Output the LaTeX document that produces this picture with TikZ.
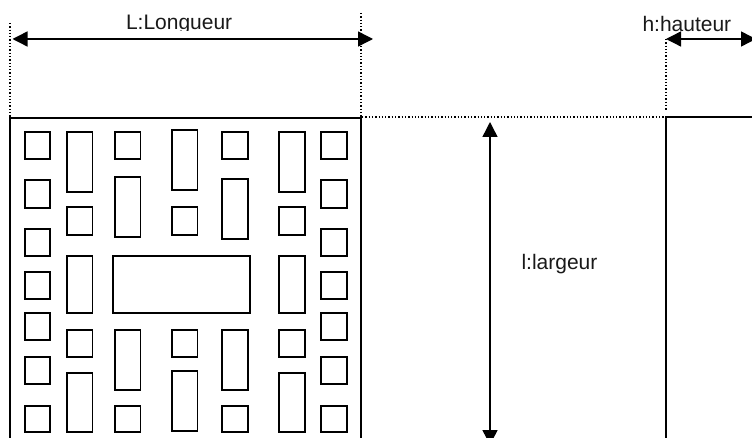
\documentclass[tikz,border=0pt]{standalone}
\usepackage{fontspec}
\setmainfont{Liberation Sans}
\usetikzlibrary{arrows.meta}
\tikzset{
  x=1pt,y=-1pt,
  part/.style={draw=black,line width=1.3pt,fill=white},
  edgeline/.style={draw=black,line width=1.3pt},
  guide/.style={draw=black,line width=1.3pt,dash pattern=on 1.3pt off 2pt},
  dimarrow/.style={draw=black,line width=1.4pt,{Triangle[length=15pt,width=15pt]}-{Triangle[length=15pt,width=15pt]}},
  dimlabel/.style={anchor=base west,inner sep=0pt,outer sep=0pt,font=\fontsize{21}{25}\selectfont,text=black!90}
}
\begin{document}
\begin{tikzpicture}
\useasboundingbox (0,0) rectangle (752,438);
\clip (0,0) rectangle (752,438);
% named anchor points
\coordinate (Ltl) at (10,118);
\coordinate (Ltr) at (361,118);
\coordinate (Lbl) at (10,440);
\coordinate (Lbr) at (361,440);
\coordinate (Rtl) at (666,117);
\coordinate (Rtr) at (754,117);
\coordinate (Rbl) at (666,440);
\coordinate (aLa) at (12.5,39);
\coordinate (aLb) at (373,39);
\coordinate (aHa) at (666,39);
\coordinate (aHb) at (756,39);
\coordinate (aWa) at (490,122);
\coordinate (aWb) at (490,445);
\coordinate (gLa) at (10,23);
\coordinate (gRa) at (361,13);
\coordinate (gMa) at (362,117);
\coordinate (gHa) at (666,39);
\coordinate (gHb) at (666,111);
% guides
\draw[guide] (gLa) -- (Ltl);
\draw[guide] (gRa) -- (Ltr);
\draw[guide] (gMa) -- (Rtl);
\draw[guide] (gHa) -- (gHb);
% solid outlines
\draw[edgeline] (Lbl) -- (Ltl) -- (Ltr) -- (Lbr);
\draw[edgeline] (Rbl) -- (Rtl) -- (Rtr);
% components
\foreach \xa/\xb in {25/50,321/347}{
  \foreach \ya/\yb in {132/159,180/208,229/256,272/299,313/340,357/384,406/432}{
    \draw[part] (\xa,\ya) rectangle (\xb,\yb);
  }
}
\foreach \xa/\xb in {67/92.5,279/305}{
  \foreach \ya/\yb in {132/192,207/235,256/313,330/357,373/432}{
    \draw[part] (\xa,\ya) rectangle (\xb,\yb);
  }
}
\foreach \ya/\yb in {132/159,177/237,330/390,406/432}{
  \draw[part] (115,\ya) rectangle (140.5,\yb);
}
\foreach \ya/\yb in {130/190,207/235,330/357,371/431}{
  \draw[part] (172,\ya) rectangle (197.5,\yb);
}
\foreach \ya/\yb in {132/159,179/239,330/390,406/432}{
  \draw[part] (222,\ya) rectangle (248,\yb);
}
\draw[part] (113,256) rectangle (250,313);
% labels
\begin{scope}
  \clip (100,0) rectangle (260,31);
  \node[dimlabel] (tL) at (126,30) {L:Longueur};
\end{scope}
\node[dimlabel] (tH) at (642.5,32) {h:hauteur};
\node[dimlabel] (tW) at (521.5,270) {l:largeur};
% dimension arrows
\draw[dimarrow] (aLa) -- (aLb);
\draw[dimarrow] (aHa) -- (aHb);
\draw[dimarrow] (aWa) -- (aWb);
\end{tikzpicture}
\end{document}
